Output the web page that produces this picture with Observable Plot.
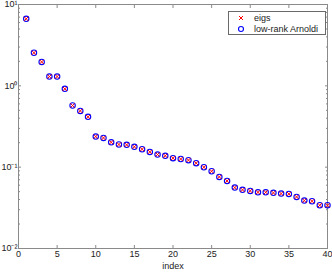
<!DOCTYPE html>
<html>
<head>
<meta charset="utf-8">
<script src="https://cdn.jsdelivr.net/npm/d3@7"></script>
<script src="https://cdn.jsdelivr.net/npm/@observablehq/plot@0.6"></script>
<style>
  html, body { margin: 0; padding: 0; background: #fff; }
  #wrap { position: relative; width: 332px; height: 272px; font-family: "Liberation Sans", Arial, sans-serif; }
  #legend { position: absolute; left: 228px; top: 11px; width: 96px; height: 22px; border: 1px solid #6a6a6a; background: #fff; font-size: 9px; color: #222; }
  #legend .row { position: absolute; left: 8px; display: flex; align-items: center; height: 11px; }
  #legend .row span { margin-left: 9px; }
</style>
</head>
<body>
<div id="wrap"><div id="legend">
  <div class="row" style="top:0px"><svg width="8" height="8"><path d="M2,2L6,6M6,2L2,6" stroke="#ff0000" stroke-width="1"/></svg><span>eigs</span></div>
  <div class="row" style="top:11px"><svg width="8" height="8"><circle cx="4" cy="4" r="2.5" fill="none" stroke="#0000ff" stroke-width="1.1"/></svg><span>low-rank Arnoldi</span></div>
</div></div>
<script>
const seriesNames = ["eigs", "low-rank Arnoldi"];
const indices = d3.range(1, 41);
const eigsValues = [6.67, 2.55, 1.97, 1.30, 1.30, 0.918, 0.573, 0.492, 0.416, 0.238,
  0.229, 0.202, 0.190, 0.188, 0.178, 0.166, 0.154, 0.143, 0.138, 0.129,
  0.126, 0.122, 0.112, 0.0998, 0.0891, 0.0759, 0.0678, 0.0561, 0.0526, 0.0511,
  0.0491, 0.0491, 0.0483, 0.0473, 0.0469, 0.0431, 0.0388, 0.0381, 0.0340, 0.0340];
const arnoldiValues = eigsValues.slice();
const xTicks = [0, 5, 10, 15, 20, 25, 30, 35, 40];
const yTicks = [0.01, 0.1, 1, 10];
const yTickLabels = ["10⁻²", "10⁻¹", "10⁰", "10¹"];

const eigsData = indices.map((i, k) => ({index: i, value: eigsValues[k]}));
const arnoldiData = indices.map((i, k) => ({index: i, value: arnoldiValues[k]}));
const yMinor = [];
for (const d of [0.01, 0.1, 1]) for (let m = 2; m <= 9; m++) yMinor.push(d * m);

const axisColor = "#8a8a8a";
const chart = Plot.plot({
  width: 332, height: 272,
  marginLeft: 18, marginRight: 5, marginTop: 4, marginBottom: 24,
  style: {fontFamily: "Liberation Sans, Arial, sans-serif", fontSize: "9px", color: "#222", background: "#fff"},
  x: {domain: [0, 40]},
  y: {type: "log", domain: [0.01, 10]},
  marks: [
    Plot.frame({stroke: axisColor}),
    Plot.axisX({anchor: "bottom", ticks: xTicks, tickSize: -3, stroke: axisColor, tickPadding: 5, tickFormat: d => String(d), label: "index", labelAnchor: "center", labelArrow: "none", labelOffset: 20, fill: "#222"}),
    Plot.axisX({anchor: "top", ticks: xTicks, tickSize: -3, stroke: axisColor, tickFormat: () => "", label: null}),
    Plot.axisY({anchor: "left", ticks: yTicks, tickSize: -3, stroke: axisColor, tickPadding: 4, tickFormat: d => yTickLabels[yTicks.indexOf(d)], label: null, fill: "#222"}),
    Plot.axisY({anchor: "right", ticks: yTicks, tickSize: -3, stroke: axisColor, tickFormat: () => "", label: null}),
    Plot.axisY({anchor: "left", ticks: yMinor, tickSize: -2, stroke: axisColor, tickFormat: () => "", label: null}),
    Plot.axisY({anchor: "right", ticks: yMinor, tickSize: -2, stroke: axisColor, tickFormat: () => "", label: null}),
    Plot.dot(arnoldiData, {x: "index", y: "value", r: 2.7, stroke: "#0000ff", strokeWidth: 1.1, fill: "none"}),
    Plot.dot(eigsData, {x: "index", y: "value", symbol: "times", r: 2, stroke: "#ff0000", strokeWidth: 1})
  ]
});
document.getElementById("wrap").prepend(chart);
chart.style.position = "absolute";
chart.style.left = "0";
chart.style.top = "0";
</script>
</body>
</html>
